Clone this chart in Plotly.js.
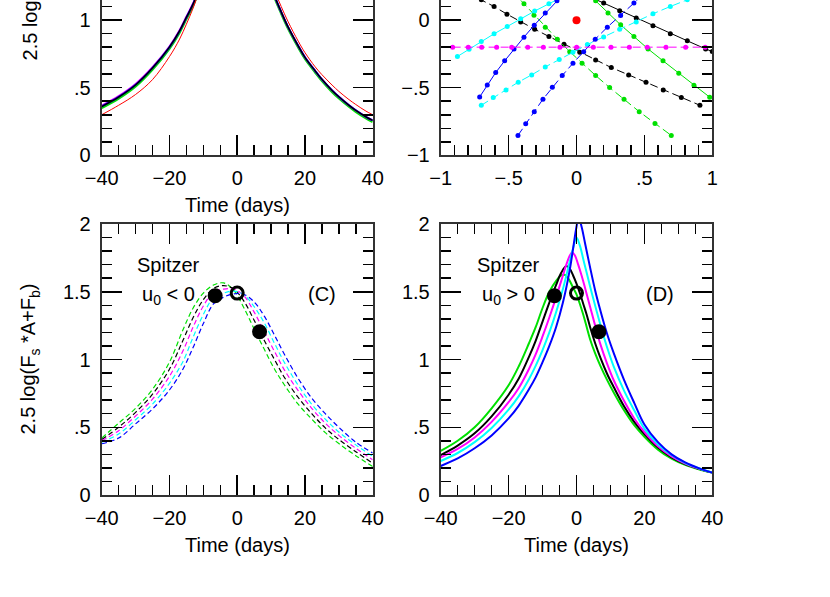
<!DOCTYPE html>
<html>
<head>
<meta charset="utf-8">
<script src="https://cdn.plot.ly/plotly-3.0.1.min.js"></script>
<style>html,body{margin:0;padding:0;background:#fff}#plot{width:830px;height:597px}</style>
</head>
<body>
<div id="plot"></div>
<script>
// ---------- tick labels ----------
const timeTickVals = [-40, -20, 0, 20, 40];
const timeTickText = ['\u221240', '\u221220', '0', '20', '40'];
const magTickVals = [0, 0.5, 1, 1.5, 2];
const magTickText = ['0', '.5', '1', '1.5', '2'];
const trXTickVals = [-1, -0.5, 0, 0.5, 1];
const trXTickText = ['\u22121', '\u2212.5', '0', '.5', '1'];
const trYTickVals = [-1, -0.5, 0, 0.5, 1];
const trYTickText = ['\u22121', '\u2212.5', '0', '.5', '1'];

// ---------- panel A (top-left) ----------
const tA = [-40, -35, -30, -25, -20, -17, -15, -13, -11, -9, -5, 0, 5, 9, 11, 13, 15, 18, 20, 23, 25, 28, 30, 33, 35, 38, 40];
const aGreen   = [0.35, 0.42, 0.51, 0.635, 0.79, 0.91, 1.01, 1.11, 1.24, 1.39, 1.79, 2.2, 1.79, 1.32, 1.17, 1.05, 0.94, 0.80, 0.715, 0.615, 0.552, 0.47, 0.423, 0.36, 0.323, 0.275, 0.248];
const aMagenta = [0.368, 0.438, 0.528, 0.652, 0.805, 0.925, 1.025, 1.125, 1.25, 1.40, 1.8, 2.2, 1.8, 1.33, 1.18, 1.06, 0.95, 0.81, 0.725, 0.625, 0.562, 0.48, 0.433, 0.37, 0.333, 0.285, 0.258];
const aBlue    = [0.362, 0.432, 0.522, 0.647, 0.80, 0.92, 1.02, 1.12, 1.25, 1.40, 1.8, 2.2, 1.8, 1.33, 1.18, 1.06, 0.95, 0.81, 0.725, 0.625, 0.562, 0.48, 0.433, 0.37, 0.333, 0.285, 0.258];
const aBlack   = [0.36, 0.43, 0.52, 0.645, 0.80, 0.92, 1.02, 1.12, 1.25, 1.40, 1.8, 2.2, 1.8, 1.33, 1.18, 1.06, 0.95, 0.81, 0.725, 0.625, 0.562, 0.48, 0.433, 0.37, 0.333, 0.285, 0.258];
const aRed     = [0.30, 0.37, 0.45, 0.56, 0.73, 0.86, 0.97, 1.09, 1.23, 1.38, 1.78, 2.15, 1.8, 1.36, 1.22, 1.10, 0.99, 0.845, 0.76, 0.655, 0.597, 0.52, 0.473, 0.412, 0.376, 0.327, 0.30];

// ---------- panel B (top-right) ----------
const bBlackSolidX = [0.075, 0.200, 0.318, 0.440, 0.563, 0.691, 0.816, 0.951, 1.0];
const bBlackSolidY = [0.183, 0.126, 0.069, 0.015, -0.042, -0.101, -0.153, -0.213, -0.232];
const bBlackDashX = [-0.80, -0.701, -0.607, -0.512, -0.411, -0.308, -0.203, -0.092, 0.024, 0.141, 0.256, 0.384, 0.512, 0.639, 0.772, 0.909];
const bBlackDashY = [0.20, 0.150, 0.101, 0.044, -0.013, -0.067, -0.121, -0.178, -0.237, -0.294, -0.351, -0.405, -0.459, -0.516, -0.573, -0.630];
const bGreenSolidX = [0.05, 0.141, 0.232, 0.325, 0.423, 0.527, 0.637, 0.753, 0.865, 0.981];
const bGreenSolidY = [0.23, 0.143, 0.052, -0.035, -0.121, -0.213, -0.301, -0.393, -0.481, -0.570];
const bGreenDashX = [-0.47, -0.387, -0.313, -0.230, -0.141, -0.050, 0.041, 0.141, 0.244, 0.350, 0.462, 0.578, 0.698];
const bGreenDashY = [0.21, 0.121, 0.037, -0.052, -0.141, -0.233, -0.319, -0.410, -0.499, -0.585, -0.677, -0.764, -0.853];
const bCyanSolidX = [-0.877, -0.791, -0.701, -0.607, -0.510, -0.411, -0.308, -0.203, -0.09];
const bCyanSolidY = [-0.269, -0.215, -0.158, -0.101, -0.047, 0.010, 0.067, 0.121, 0.18];
const bCyanDashX = [-0.701, -0.613, -0.519, -0.429, -0.330, -0.230, -0.127, -0.026, 0.080, 0.200, 0.318, 0.440, 0.563, 0.691, 0.816, 0.94];
const bCyanDashY = [-0.630, -0.573, -0.516, -0.459, -0.405, -0.346, -0.292, -0.237, -0.181, -0.124, -0.067, -0.013, 0.047, 0.101, 0.150, 0.20];
const bBlueSolidX = [-0.713, -0.657, -0.595, -0.529, -0.460, -0.387, -0.311, -0.230, -0.144, -0.06];
const bBlueSolidY = [-0.568, -0.479, -0.388, -0.301, -0.213, -0.126, -0.037, 0.052, 0.143, 0.23];
const bBlueDashX = [-0.431, -0.374, -0.311, -0.247, -0.178, -0.105, -0.026, 0.053, 0.138, 0.227, 0.325, 0.423, 0.51];
const bBlueDashY = [-0.853, -0.766, -0.677, -0.585, -0.496, -0.410, -0.319, -0.233, -0.141, -0.052, 0.034, 0.126, 0.21];
const bMagentaX = [-0.912, -0.797, -0.698, -0.588, -0.477, -0.359, -0.244, -0.122, 0.001, 0.124, 0.254, 0.389, 0.521, 0.659, 0.804, 0.948];
const bMagentaY = [-0.2, -0.2, -0.2, -0.2, -0.2, -0.2, -0.2, -0.2, -0.2, -0.2, -0.2, -0.2, -0.2, -0.2, -0.2, -0.2];
const bRedX = [0];
const bRedY = [0];

// ---------- panel C (bottom-left, Spitzer u0<0, dashed) ----------
const tC = [-40, -35, -30, -25, -20, -16, -13, -10, -7, -4, -1, 2, 5, 8, 11, 14, 18, 22, 26, 30, 35, 40];
const cGreen   = [0.42, 0.53, 0.64, 0.78, 0.98, 1.22, 1.38, 1.49, 1.55, 1.565, 1.51, 1.38, 1.225, 1.075, 0.93, 0.81, 0.67, 0.56, 0.46, 0.38, 0.29, 0.21];
const cBlack   = [0.41, 0.50, 0.61, 0.744, 0.928, 1.142, 1.31, 1.442, 1.524, 1.545, 1.52, 1.43, 1.29, 1.14, 1.0, 0.865, 0.72, 0.60, 0.495, 0.41, 0.32, 0.235];
const cMagenta = [0.40, 0.475, 0.583, 0.707, 0.876, 1.064, 1.241, 1.395, 1.498, 1.52, 1.52, 1.47, 1.35, 1.205, 1.06, 0.92, 0.77, 0.64, 0.53, 0.44, 0.345, 0.26];
const cCyan    = [0.39, 0.45, 0.555, 0.671, 0.824, 0.986, 1.166, 1.332, 1.457, 1.49, 1.505, 1.477, 1.39, 1.27, 1.12, 0.975, 0.81, 0.67, 0.56, 0.465, 0.37, 0.285];
const cBlue    = [0.378, 0.42, 0.525, 0.635, 0.775, 0.93, 1.09, 1.265, 1.41, 1.46, 1.485, 1.48, 1.425, 1.32, 1.18, 1.035, 0.86, 0.715, 0.60, 0.50, 0.39, 0.31];

// ---------- panel D (bottom-right, Spitzer u0>0, solid) ----------
const tDg = [-40, -35, -30, -25, -20, -17, -14, -12, -10, -8, -6, -4.5, -3.5, -2.5, -1, 0, 1, 2, 3, 4, 5.5, 7, 9, 11, 14, 17, 20, 24, 28, 32, 36, 40];
const dGreen = [0.325, 0.40, 0.50, 0.64, 0.81, 0.95, 1.12, 1.24, 1.38, 1.50, 1.58, 1.62, 1.625, 1.60, 1.53, 1.48, 1.41, 1.33, 1.24, 1.15, 1.045, 0.955, 0.85, 0.755, 0.625, 0.515, 0.43, 0.335, 0.268, 0.222, 0.19, 0.165];
const tDk = [-40, -35, -30, -25, -20, -17, -14, -12, -10, -8, -6, -4.5, -3, -2, -1, 0, 1, 2, 3, 4, 5.5, 7, 9, 11, 14, 17, 20, 24, 28, 32, 36, 40];
const dBlack = [0.295, 0.365, 0.455, 0.58, 0.74, 0.86, 1.02, 1.14, 1.28, 1.42, 1.55, 1.64, 1.69, 1.67, 1.62, 1.56, 1.49, 1.41, 1.33, 1.24, 1.12, 1.015, 0.895, 0.795, 0.655, 0.54, 0.45, 0.35, 0.278, 0.228, 0.193, 0.165];
const tDm = [-40, -35, -30, -25, -20, -17, -14, -12, -10, -8, -6, -4, -3, -2, -1.3, -0.5, 0.5, 1.5, 2.5, 4, 5.5, 7, 9, 11, 14, 17, 20, 24, 28, 32, 36, 40];
const dMagenta = [0.278, 0.34, 0.425, 0.54, 0.685, 0.79, 0.93, 1.04, 1.17, 1.31, 1.46, 1.62, 1.70, 1.765, 1.79, 1.77, 1.70, 1.62, 1.53, 1.39, 1.25, 1.115, 0.97, 0.845, 0.695, 0.565, 0.465, 0.36, 0.285, 0.232, 0.195, 0.165];
const tDc = [-40, -35, -30, -25, -20, -17, -14, -12, -10, -8, -6, -4, -2.5, -1, 0, 1, 2, 3, 4.5, 6, 7.5, 9, 11, 14, 17, 20, 24, 28, 32, 36, 40];
const dCyan = [0.251, 0.31, 0.39, 0.495, 0.63, 0.73, 0.855, 0.955, 1.07, 1.20, 1.35, 1.52, 1.67, 1.82, 1.90, 1.84, 1.74, 1.64, 1.49, 1.35, 1.215, 1.09, 0.945, 0.77, 0.625, 0.49, 0.375, 0.295, 0.237, 0.197, 0.165];
const tDb = [-40, -35, -30, -25, -20, -17, -14, -12, -10, -8, -6, -4, -2, -1, 0, 0.6, 1.5, 2.5, 4, 5.5, 7, 9, 11, 14, 17, 20, 24, 28, 32, 36, 40];
const dBlue = [0.214, 0.27, 0.345, 0.44, 0.565, 0.66, 0.78, 0.87, 0.98, 1.10, 1.24, 1.42, 1.66, 1.82, 1.98, 2.05, 1.98, 1.86, 1.68, 1.51, 1.365, 1.19, 1.045, 0.85, 0.68, 0.52, 0.39, 0.30, 0.24, 0.198, 0.165];

// ---------- Spitzer points ----------
const spFilledT = [-6.5, 6.6];
const spFilledV = [1.47, 1.205];
const spOpenT = [0];
const spOpenV = [1.49];

// ---------- labels ----------
const timeTitle = 'Time (days)';
const magTitleBottom = '2.5 log(F<sub>s</sub> *A+F<sub>b</sub>)';
const magTitleTop = '2.5 log(A)';

const FONT = 'Liberation Sans, Arial, Helvetica, sans-serif';
const C = {green: '#00e000', black: '#000000', magenta: '#ff00ff', cyan: '#00ffff', blue: '#0000ff', red: '#ff0000'};

function line(x, y, color, width, xa, ya, dash) {
  return {x: x, y: y, type: 'scatter', mode: 'lines', xaxis: xa, yaxis: ya, hoverinfo: 'skip',
          line: {color: color, width: width, shape: 'spline', smoothing: 1, dash: dash || 'solid'}, showlegend: false};
}
function dotline(x, y, color, xa, ya, dash) {
  return {x: x, y: y, type: 'scatter', mode: 'lines+markers', xaxis: xa, yaxis: ya, hoverinfo: 'skip',
          line: {color: color, width: 1, dash: dash || 'solid'}, marker: {color: color, size: 5}, showlegend: false};
}

const traces = [];
// A
traces.push(line(tA, aGreen, C.green, 2.5, 'x', 'y'));
traces.push(line(tA, aMagenta, C.magenta, 2, 'x', 'y'));
traces.push(line(tA, aBlue, C.blue, 2, 'x', 'y'));
traces.push(line(tA, aBlack, C.black, 1.5, 'x', 'y'));
traces.push(line(tA, aRed, C.red, 1, 'x', 'y'));
// B
traces.push(dotline(bBlackSolidX, bBlackSolidY, C.black, 'x2', 'y2'));
traces.push(dotline(bBlackDashX, bBlackDashY, C.black, 'x2', 'y2', '8px,4px'));
traces.push(dotline(bGreenSolidX, bGreenSolidY, C.green, 'x2', 'y2'));
traces.push(dotline(bGreenDashX, bGreenDashY, C.green, 'x2', 'y2', '8px,4px'));
traces.push(dotline(bCyanSolidX, bCyanSolidY, C.cyan, 'x2', 'y2'));
traces.push(dotline(bCyanDashX, bCyanDashY, C.cyan, 'x2', 'y2', '8px,4px'));
traces.push(dotline(bBlueSolidX, bBlueSolidY, C.blue, 'x2', 'y2'));
traces.push(dotline(bBlueDashX, bBlueDashY, C.blue, 'x2', 'y2', '8px,4px'));
traces.push(dotline(bMagentaX, bMagentaY, C.magenta, 'x2', 'y2', '8px,4px'));
traces.push({x: bRedX, y: bRedY, type: 'scatter', mode: 'markers', xaxis: 'x2', yaxis: 'y2', hoverinfo: 'skip',
             marker: {color: C.red, size: 8}, showlegend: false});
// C
const cd = '5px,3px';
traces.push(line(tC, cGreen, C.green, 1.2, 'x3', 'y3', cd));
traces.push(line(tC, cBlack, C.black, 1.2, 'x3', 'y3', cd));
traces.push(line(tC, cMagenta, C.magenta, 1.2, 'x3', 'y3', cd));
traces.push(line(tC, cCyan, C.cyan, 1.2, 'x3', 'y3', cd));
traces.push(line(tC, cBlue, C.blue, 1.2, 'x3', 'y3', cd));
// D
traces.push(line(tDg, dGreen, C.green, 2, 'x4', 'y4'));
traces.push(line(tDk, dBlack, C.black, 2, 'x4', 'y4'));
traces.push(line(tDm, dMagenta, C.magenta, 2, 'x4', 'y4'));
traces.push(line(tDc, dCyan, C.cyan, 2, 'x4', 'y4'));
traces.push(line(tDb, dBlue, C.blue, 2, 'x4', 'y4'));
// Spitzer points in C and D
[['x3', 'y3'], ['x4', 'y4']].forEach(function (ax) {
  traces.push({x: spFilledT, y: spFilledV, type: 'scatter', mode: 'markers', xaxis: ax[0], yaxis: ax[1], hoverinfo: 'skip',
               marker: {color: '#000', size: 15, line: {width: 0}}, showlegend: false});
  traces.push({x: spOpenT, y: spOpenV, type: 'scatter', mode: 'markers', xaxis: ax[0], yaxis: ax[1], hoverinfo: 'skip',
               marker: {symbol: 'circle-open', color: '#000', size: 12, line: {width: 3, color: '#000'}}, showlegend: false});
});

function axis(domain, range, vals, text, minorDtick, anchor, mirror, standoff) {
  return {
    domain: domain, range: range, anchor: anchor, showgrid: false, zeroline: false,
    showline: true, linecolor: '#333', linewidth: 2, mirror: mirror,
    ticks: 'inside', ticklen: 20, tickwidth: 1.5, tickcolor: '#000',
    tickmode: 'array', tickvals: vals, ticktext: text, ticklabelstandoff: standoff,
    tickfont: {family: FONT, size: 20, color: '#000'},
    minor: {ticks: 'inside', ticklen: 10, tickwidth: 1.5, tickcolor: '#000', tickmode: 'linear', tick0: 0, dtick: minorDtick, showgrid: false},
    fixedrange: true
  };
}

const xL = [0.12253, 0.44904], xR = [0.53096, 0.85819];
const yTop = [0.73987, 1.0], yBot = [0.17085, 0.62479];
const XS = 4, YS = 5;

const layout = {
  width: 830, height: 597, autosize: false,
  margin: {l: 0, r: 0, t: 0, b: 0, pad: 0},
  paper_bgcolor: '#fff', plot_bgcolor: '#fff',
  font: {family: FONT, size: 20, color: '#000'},
  xaxis: axis(xL, [-40, 40], timeTickVals, timeTickText, 5, 'y', false, XS),
  yaxis: axis(yTop, [0, 1.149], magTickVals, magTickText, 0.1, 'x', 'allticks', YS),
  xaxis2: axis(xR, [-1, 1], trXTickVals, trXTickText, 0.1, 'y2', false, XS),
  yaxis2: axis(yTop, [-1, 0.149], trYTickVals, trYTickText, 0.1, 'x2', 'allticks', YS),
  xaxis3: axis(xL, [-40, 40], timeTickVals, timeTickText, 5, 'y3', 'allticks', XS),
  yaxis3: axis(yBot, [0, 2], magTickVals, magTickText, 0.1, 'x3', 'allticks', YS),
  xaxis4: axis(xR, [-40, 40], timeTickVals, timeTickText, 5, 'y4', 'allticks', XS),
  yaxis4: axis(yBot, [0, 2], magTickVals, magTickText, 0.1, 'x4', 'allticks', YS),
  annotations: [
    {text: timeTitle, xref: 'paper', yref: 'paper', x: (xL[0] + xL[1]) / 2, y: 0.6566, xanchor: 'center', yanchor: 'middle', showarrow: false, font: {size: 20}},
    {text: timeTitle, xref: 'paper', yref: 'paper', x: (xL[0] + xL[1]) / 2, y: 0.0871, xanchor: 'center', yanchor: 'middle', showarrow: false, font: {size: 20}},
    {text: timeTitle, xref: 'paper', yref: 'paper', x: (xR[0] + xR[1]) / 2, y: 0.0871, xanchor: 'center', yanchor: 'middle', showarrow: false, font: {size: 20}},
    {text: magTitleBottom, xref: 'paper', yref: 'paper', x: 30 / 830, y: (yBot[0] + yBot[1]) / 2, xanchor: 'center', yanchor: 'middle', textangle: -90, showarrow: false, font: {size: 20}},
    {text: magTitleTop, xref: 'paper', yref: 'paper', x: 30 / 830, y: 0.8945, xanchor: 'center', yanchor: 'bottom', textangle: -90, showarrow: false, font: {size: 20}},
    {text: 'Spitzer', xref: 'x3', yref: 'y3', x: -20.2, y: 1.70, xanchor: 'center', yanchor: 'middle', showarrow: false, font: {size: 20}},
    {text: 'u<sub>0</sub> &lt; 0', xref: 'x3', yref: 'y3', x: -20.2, y: 1.47, xanchor: 'center', yanchor: 'middle', showarrow: false, font: {size: 20}},
    {text: '(C)', xref: 'x3', yref: 'y3', x: 24.9, y: 1.483, xanchor: 'center', yanchor: 'middle', showarrow: false, font: {size: 20}},
    {text: 'Spitzer', xref: 'x4', yref: 'y4', x: -19.9, y: 1.70, xanchor: 'center', yanchor: 'middle', showarrow: false, font: {size: 20}},
    {text: 'u<sub>0</sub> &gt; 0', xref: 'x4', yref: 'y4', x: -19.9, y: 1.47, xanchor: 'center', yanchor: 'middle', showarrow: false, font: {size: 20}},
    {text: '(D)', xref: 'x4', yref: 'y4', x: 24.6, y: 1.483, xanchor: 'center', yanchor: 'middle', showarrow: false, font: {size: 20}}
  ]
};

Plotly.newPlot('plot', traces, layout, {staticPlot: true, displayModeBar: false});
</script>
</body>
</html>
